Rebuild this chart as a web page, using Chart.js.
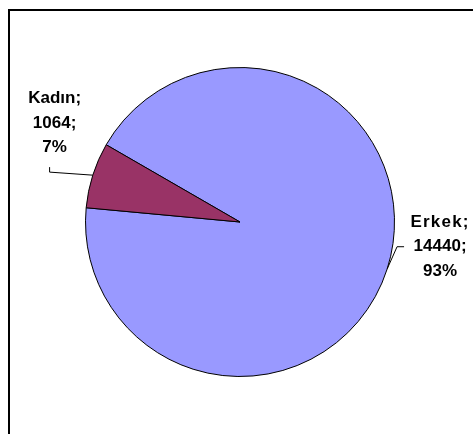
<!DOCTYPE html>
<html>
<head>
<meta charset="utf-8">
<script src="https://cdn.jsdelivr.net/npm/chart.js@4.4.1/dist/chart.umd.min.js"></script>
<style>
  html, body { margin: 0; padding: 0; background: #ffffff; }
  #wrap { width: 473px; height: 434px; position: relative; }
</style>
</head>
<body>
<div id="wrap"><canvas id="c" width="473" height="434"></canvas></div>
<script>
// Data
const categories = ["Erkek", "Kadın"];
const values = [14440, 1064];
const percentLabels = ["93%", "7%"];

// Styles
const sliceColors = ["#9999FF", "#993366"];
// label centre relative to pie centre, in units of radius
const labelAnchors = [[1.295, 0.16], [-1.2, -0.64]];
// leader line points relative to label centre (px): elbow, end
const leaderPts = [[[-43, 0], [-36, 0]], [[-5, 49], [-5, 44]]];
const letterSpacings = ["1.2px", "0px"];

const frame = {
  id: "frame",
  beforeDraw(chart) {
    const ctx = chart.ctx;
    ctx.save();
    ctx.fillStyle = "#ffffff";
    ctx.fillRect(0, 0, chart.width, chart.height);
    ctx.strokeStyle = "#000000";
    ctx.lineWidth = 2;
    ctx.strokeRect(9, 10, chart.width + 20, chart.height + 20);
    ctx.restore();
  }
};

const pieLabels = {
  id: "pieLabels",
  afterDatasetsDraw(chart) {
    const ctx = chart.ctx;
    const meta = chart.getDatasetMeta(0);
    const lineH = 24.5;
    meta.data.forEach((arc, i) => {
      const p = arc.getProps(["x", "y", "startAngle", "endAngle", "outerRadius"], true);
      const mid = (p.startAngle + p.endAngle) / 2;
      const r = p.outerRadius;
      const ex = p.x + Math.cos(mid) * r;
      const ey = p.y + Math.sin(mid) * r;
      const lx = p.x + labelAnchors[i][0] * r;
      const ly = p.y + labelAnchors[i][1] * r;
      // leader
      ctx.save();
      ctx.strokeStyle = "#000000";
      ctx.lineWidth = 1;
      ctx.beginPath();
      ctx.moveTo(ex, ey);
      ctx.lineTo(lx + leaderPts[i][0][0], ly + leaderPts[i][0][1]);
      ctx.lineTo(lx + leaderPts[i][1][0], ly + leaderPts[i][1][1]);
      ctx.stroke();
      // text
      const lines = [categories[i] + ";", values[i] + ";", percentLabels[i]];
      ctx.fillStyle = "#000000";
      ctx.font = "bold 17px 'Liberation Sans', Arial, sans-serif";
      ctx.textAlign = "center";
      ctx.textBaseline = "middle";
      lines.forEach((t, k) => {
        ctx.letterSpacing = (k === 0) ? letterSpacings[i] : "0px";
        ctx.fillText(t, lx, ly + (k - 1) * lineH);
      });
      ctx.restore();
    });
  }
};

new Chart(document.getElementById("c"), {
  type: "pie",
  data: {
    labels: categories,
    datasets: [{
      data: values,
      backgroundColor: sliceColors,
      borderColor: "#000000",
      borderWidth: 1
    }]
  },
  options: {
    responsive: false,
    animation: false,
    devicePixelRatio: 1,
    rotation: 300,
    layout: { padding: { left: 85, right: 78, top: 67, bottom: 57 } },
    plugins: {
      legend: { display: false },
      tooltip: { enabled: false }
    }
  },
  plugins: [frame, pieLabels]
});
</script>
</body>
</html>
